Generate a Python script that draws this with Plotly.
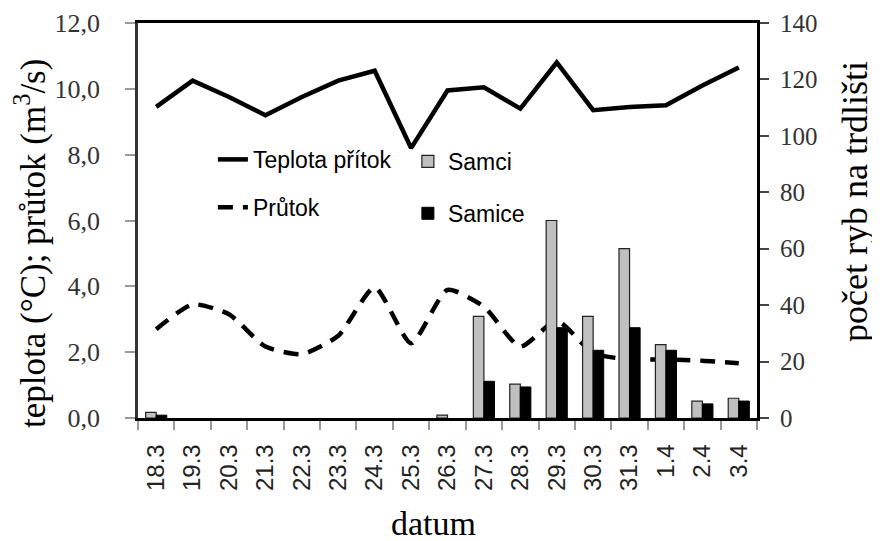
import plotly.graph_objects as go

dates = ["18.3", "19.3", "20.3", "21.3", "22.3", "23.3", "24.3", "25.3", "26.3",
         "27.3", "28.3", "29.3", "30.3", "31.3", "1.4", "2.4", "3.4"]
teplota = [9.45, 10.25, 9.75, 9.2, 9.75, 10.25, 10.55, 8.2, 9.95,
           10.05, 9.4, 10.8, 9.35, 9.45, 9.5, 10.1, 10.65]
prutok = [2.7, 3.45, 3.15, 2.17, 1.94, 2.5, 3.97, 2.27, 3.89,
          3.38, 2.17, 2.95, 1.97, 1.78, 1.78, 1.74, 1.66]
samci = [2, 0, 0, 0, 0, 0, 0, 0, 1, 36, 12, 70, 36, 60, 26, 6, 7]
samice = [1, 0, 0, 0, 0, 0, 0, 0, 0, 13, 11, 32, 24, 32, 24, 5, 6]

SERIF = "Liberation Serif, Times New Roman, serif"
SANS = "Liberation Sans, Arial, sans-serif"


def nz(vals):
    return [v if v else None for v in vals]


fig = go.Figure()
fig.add_trace(go.Scatter(x=dates, y=teplota, mode="lines", name="Teplota přítok",
                         line=dict(color="black", width=4.5), legend="legend",
                         legendgroup="t"))
fig.add_trace(go.Scatter(x=dates, y=prutok, mode="lines", name="Průtok",
                         line=dict(color="black", width=4.5, dash="15px,10px",
                                   shape="spline", smoothing=0.6),
                         legend="legend", legendgroup="p"))
fig.add_trace(go.Bar(x=dates, y=nz(samci), name="Samci", yaxis="y2",
                     marker=dict(color="#c0c0c0", line=dict(color="#222", width=1.2)),
                     legend="legend2", legendgroup="m"))
fig.add_trace(go.Bar(x=dates, y=nz(samice), name="Samice", yaxis="y2",
                     marker=dict(color="black", line=dict(color="black", width=1)),
                     legend="legend2", legendgroup="f"))

fig.update_layout(
    width=880, height=541,
    margin=dict(l=130, r=131, t=15, b=131, autoexpand=False),
    paper_bgcolor="white", plot_bgcolor="white",
    separators=",.",
    barmode="group", bargap=0.42, bargroupgap=0,
    showlegend=True,
    xaxis=dict(
        type="category", automargin=False, showgrid=False, showline=True,
        linecolor="black", linewidth=2.5,
        mirror=True, ticks="outside", tickson="boundaries", ticklen=9, tickcolor="#999",
        tickwidth=1.5, tickangle=-90, ticklabelstandoff=14,
        tickfont=dict(family=SANS, size=24, color="#222"),
    ),
    yaxis=dict(
        range=[0, 12], dtick=2, tickformat=".1f", automargin=False, showgrid=False,
        zeroline=False, showline=True, linecolor="#333", linewidth=2.5,
        ticks="outside", ticklen=10,
        tickwidth=1.5, tickcolor="#999", ticklabelstandoff=20,
        tickfont=dict(family=SERIF, size=26, color="#333"),
    ),
    yaxis2=dict(
        range=[0, 140], dtick=20, overlaying="y", side="right", automargin=False,
        showgrid=False, zeroline=False, showline=True, linecolor="black", linewidth=3,
        ticks="outside", ticklen=9, tickwidth=1.5, tickcolor="#444", ticklabelstandoff=6,
        tickfont=dict(family=SERIF, size=25, color="#333"),
    ),
    legend=dict(x=0.121, y=0.709, xanchor="left", yanchor="top", bgcolor="rgba(0,0,0,0)",
                font=dict(family=SANS, size=23, color="black"), tracegroupgap=15,
                traceorder="grouped"),
    legend2=dict(x=0.436, y=0.704, xanchor="left", yanchor="top", bgcolor="rgba(0,0,0,0)",
                 font=dict(family=SANS, size=23, color="black"), tracegroupgap=19,
                 traceorder="grouped"),
    annotations=[
        dict(text="teplota (°C); průtok (m<sup>3</sup>/s)", xref="paper", yref="paper",
             x=-0.1745, y=0.443, xanchor="center", yanchor="middle", textangle=-90,
             showarrow=False, font=dict(family=SERIF, size=35, color="black")),
        dict(text="počet ryb na trdlišti", xref="paper", yref="paper",
             x=1.158, y=0.549, xanchor="center", yanchor="middle", textangle=-90,
             showarrow=False, font=dict(family=SERIF, size=36, color="black")),
        dict(text="datum", xref="paper", yref="paper",
             x=0.478, y=-0.268, xanchor="center", yanchor="middle",
             showarrow=False, font=dict(family=SERIF, size=34, color="black")),
    ],
)

fig.write_html("out.html")
